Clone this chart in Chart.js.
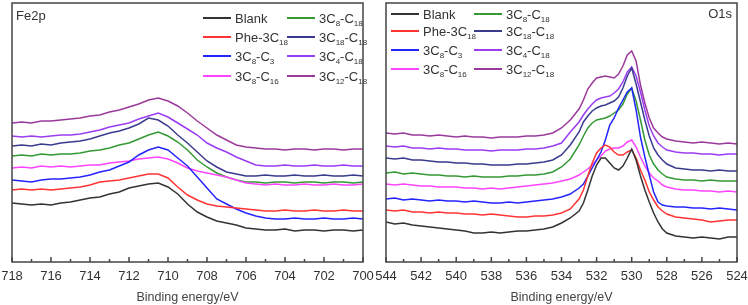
<!DOCTYPE html>
<html>
<head>
<meta charset="utf-8">
<script src="https://cdn.jsdelivr.net/npm/chart.js@4.4.1/dist/chart.umd.min.js"></script>
<style>
  body { margin: 0; background: #fff; font-family: "Liberation Sans", Arial, sans-serif; }
  #wrap { position: relative; width: 748px; height: 305px; overflow: hidden; }
  .panel { position: absolute; top: 0; width: 374px; height: 305px; }
  .panel canvas { position: absolute; left: 0; top: 0; }
  .tag { position: absolute; font-size: 13px; color: #333; line-height: 16px; }
  .item { position: absolute; height: 16px; display: flex; align-items: center; font-size: 13px; color: #333; white-space: nowrap; }
  .item .ln { display: inline-block; width: 28px; height: 1.6px; margin-right: 4px; }
  .item sub { font-size: 8px; vertical-align: -3px; line-height: 0; }
</style>
</head>
<body>
<div id="wrap">
  <div class="panel" style="left:0">
    <canvas id="fe" width="374" height="305"></canvas>
    <div class="tag" style="left:16px;top:8px">Fe2p</div>
    <div id="legFe"></div>
  </div>
  <div class="panel" style="left:374px">
    <canvas id="o1s" width="374" height="305"></canvas>
    <div class="tag" style="right:16px;top:6px">O1s</div>
    <div id="legO"></div>
  </div>
</div>
<script>
// series order: Blank, Phe-3C18, 3C8-C3, 3C8-C16, 3C8-C18, 3C18-C18, 3C4-C18, 3C12-C18
const SERIES_NAMES = ['Blank', 'Phe-3C<sub>18</sub>', '3C<sub>8</sub>-C<sub>3</sub>', '3C<sub>8</sub>-C<sub>16</sub>',
  '3C<sub>8</sub>-C<sub>18</sub>', '3C<sub>18</sub>-C<sub>18</sub>', '3C<sub>4</sub>-C<sub>18</sub>', '3C<sub>12</sub>-C<sub>18</sub>'];
const SERIES_COLORS = ['#333333', '#ff3333', '#2424ff', '#ff44ff', '#339933', '#3a3a8f', '#9a3cf2', '#9b399b'];

// Fe2p, binding energy (eV) and offset intensity (a.u.)
const FE_ENERGY = [718, 717.5, 717, 716.5, 716, 715.5, 715, 714.5, 714, 713.5, 713, 712.5, 712, 711.5, 711, 710.5,
  710, 709.5, 709, 708.5, 708, 707.5, 707, 706.5, 706, 705.5, 705, 704.5, 704, 703.5, 703, 702.5, 702, 701.5, 701, 700.5, 700];
const FE_BLANK = [59, 58, 57, 58, 57, 59, 60, 62, 64, 65, 68, 70, 74, 76, 78, 79, 75, 68, 58, 50, 45, 41, 39, 37, 34, 33, 32, 32, 33, 31, 32, 32, 31, 32, 32, 31, 32];
const FE_PHE = [72, 73, 72, 73, 72, 73, 74, 75, 77, 80, 81, 82, 84, 86, 88, 88, 84, 75, 67, 62, 58, 56, 55, 54, 53, 52, 51, 51, 52, 51, 51, 52, 51, 51, 52, 51, 51];
const FE_C8C3 = [82, 81, 80, 82, 83, 83, 84, 85, 87, 90, 92, 96, 100, 107, 112, 115, 112, 104, 96, 85, 74, 63, 58, 53, 49, 46, 44, 43, 43, 44, 43, 43, 44, 43, 43, 44, 43];
const FE_C8C16 = [94, 95, 94, 96, 95, 96, 95, 96, 97, 97, 99, 100, 101, 103, 104, 105, 103, 99, 94, 91, 89, 87, 85, 82, 79, 78, 77, 78, 77, 77, 78, 77, 77, 78, 77, 77, 78];
const FE_C8C18 = [106, 107, 106, 108, 107, 108, 108, 109, 111, 112, 114, 117, 119, 123, 127, 130, 126, 120, 112, 102, 95, 89, 85, 82, 80, 80, 79, 80, 80, 79, 80, 80, 79, 80, 80, 79, 80];
const FE_C18C18 = [116, 117, 116, 118, 117, 119, 120, 121, 123, 126, 129, 131, 134, 138, 144, 142, 136, 127, 119, 110, 101, 95, 90, 88, 86, 86, 87, 86, 86, 87, 86, 86, 87, 86, 86, 87, 86];
const FE_C4C18 = [126, 125, 126, 125, 126, 127, 127, 128, 130, 132, 135, 137, 139, 143, 146, 149, 145, 139, 133, 127, 119, 114, 110, 105, 101, 97, 96, 96, 97, 96, 96, 97, 96, 96, 97, 96, 96];
const FE_C12C18 = [139, 140, 139, 141, 141, 142, 143, 144, 146, 147, 150, 152, 155, 158, 162, 164, 161, 156, 149, 141, 134, 127, 122, 117, 115, 114, 113, 113, 112, 113, 113, 112, 113, 113, 112, 113, 113];

// O1s
const O_ENERGY = [544, 543.5, 543, 542.5, 542, 541.5, 541, 540.5, 540, 539.5, 539, 538.5, 538, 537.5, 537, 536.5, 536, 535.5, 535, 534.5, 534, 533.5,
  533, 532.75, 532.5, 532.25, 532, 531.75, 531.5, 531.25, 531, 530.75, 530.5, 530.25, 530, 529.75, 529.5, 529.25, 529, 528.75, 528.5, 528.25, 528,
  527.5, 527, 526.5, 526, 525.5, 525, 524.5, 524];
const O_BLANK = [40, 38, 39, 37, 36, 35, 34, 33, 32, 31, 29, 29, 30, 29, 30, 31, 31, 32, 33, 35, 39, 44,
  51, 59, 72, 86, 97, 104, 104, 99, 94, 92, 96, 104, 113, 102, 86, 72, 60, 49, 40, 33, 29, 26, 25, 24, 25, 24, 23, 25, 25];
const O_PHE = [52, 51, 52, 50, 50, 49, 50, 49, 49, 48, 48, 47, 48, 47, 46, 45, 45, 46, 46, 47, 49, 53,
  63, 72, 86, 99, 109, 114, 117, 115, 110, 107, 107, 110, 112, 104, 92, 82, 70, 62, 55, 51, 48, 45, 44, 43, 42, 40, 41, 42, 42];
const O_C8C3 = [63, 64, 62, 63, 62, 61, 62, 61, 61, 60, 61, 60, 59, 59, 60, 59, 60, 61, 62, 63, 65, 68,
  74, 78, 86, 94, 102, 110, 122, 137, 144, 154, 162, 170, 174, 152, 125, 105, 87, 70, 60, 57, 56, 55, 55, 54, 54, 53, 54, 53, 52];
const O_C8C16 = [78, 77, 78, 77, 76, 76, 75, 75, 75, 74, 74, 73, 74, 73, 74, 75, 76, 77, 78, 79, 81, 83,
  87, 90, 93, 97, 102, 106, 111, 113, 114, 114, 116, 120, 122, 115, 105, 96, 89, 84, 81, 77, 75, 73, 72, 72, 71, 71, 70, 71, 70];
const O_C8C18 = [89, 90, 88, 89, 88, 87, 87, 86, 86, 85, 86, 85, 85, 85, 86, 86, 87, 87, 88, 90, 95, 103,
  117, 126, 134, 139, 142, 143, 144, 146, 149, 152, 158, 168, 174, 161, 142, 122, 107, 98, 92, 88, 85, 83, 82, 82, 81, 82, 81, 81, 81];
const O_C18C18 = [104, 103, 104, 102, 102, 101, 100, 100, 99, 99, 98, 98, 97, 97, 97, 98, 98, 99, 100, 102, 107, 117,
  130, 140, 146, 151, 154, 156, 157, 159, 161, 165, 174, 186, 194, 178, 160, 142, 126, 114, 107, 102, 98, 94, 93, 92, 92, 91, 92, 91, 91];
const O_C4C18 = [116, 115, 116, 114, 114, 113, 114, 113, 113, 112, 112, 112, 111, 112, 112, 112, 113, 113, 114, 116, 119, 130,
  140, 147, 153, 158, 162, 164, 165, 166, 169, 173, 180, 190, 195, 186, 170, 152, 136, 126, 119, 115, 112, 110, 109, 109, 108, 108, 107, 108, 108];
const O_C12C18 = [129, 128, 129, 127, 127, 126, 127, 126, 125, 126, 125, 125, 124, 125, 125, 125, 126, 126, 127, 129, 134, 142,
  153, 162, 173, 179, 184, 185, 186, 185, 184, 188, 196, 207, 211, 201, 177, 159, 144, 134, 129, 125, 123, 121, 120, 119, 120, 119, 118, 119, 118];

const FE_SERIES = [FE_BLANK, FE_PHE, FE_C8C3, FE_C8C16, FE_C8C18, FE_C18C18, FE_C4C18, FE_C12C18];
const O_SERIES = [O_BLANK, O_PHE, O_C8C3, O_C8C16, O_C8C18, O_C18C18, O_C4C18, O_C12C18];

// box round the plot + inward tick marks on the energy axis
const framePlugin = {
  id: 'frame',
  afterDraw(chart) {
    const { ctx, chartArea: a } = chart;
    const x = chart.scales.x;
    ctx.save();
    ctx.strokeStyle = '#444';
    ctx.lineWidth = 1.5;
    ctx.strokeRect(a.left, a.top, a.right - a.left, a.bottom - a.top);
    x.ticks.forEach(t => {
      const px = x.getPixelForValue(t.value);
      const len = t.value % 2 === 0 ? 5 : 3;
      ctx.beginPath();
      ctx.moveTo(px, a.bottom);
      ctx.lineTo(px, a.bottom - len);
      ctx.stroke();
    });
    ctx.restore();
  }
};

function makeChart(id, energies, series, xMin, xMax) {
  const datasets = series.map((vals, i) => ({
    label: SERIES_NAMES[i],
    data: energies.map((e, j) => ({ x: e, y: vals[j] })),
    borderColor: SERIES_COLORS[i],
    borderWidth: 1.5,
    pointRadius: 0,
    fill: false,
    tension: 0
  }));
  return new Chart(document.getElementById(id), {
    type: 'line',
    data: { datasets },
    options: {
      responsive: false,
      animation: false,
      layout: { padding: { left: 12, right: 11, top: 3, bottom: 0 } },
      plugins: { legend: { display: false }, tooltip: { enabled: false } },
      scales: {
        x: {
          type: 'linear', reverse: true, min: xMin, max: xMax,
          grid: { display: false, drawTicks: false },
          border: { display: false },
          // fixed axis band so the plot box sits where the original one does
          afterFit: s => { s.height = 43; s.paddingLeft = 0; s.paddingRight = 0; },
          ticks: {
            stepSize: 1, autoSkip: false, maxRotation: 0, padding: 7, color: '#333',
            font: { family: "'Liberation Sans', Arial", size: 13 },
            callback: v => (v % 2 === 0 ? v : '')
          },
          title: {
            display: true, text: 'Binding energy/eV', color: '#444',
            font: { family: "'Liberation Sans', Arial", size: 12.5 },
            padding: { top: 0, bottom: 0 }
          }
        },
        y: { display: false, min: 0, max: 259 }
      }
    },
    plugins: [framePlugin]
  });
}

function buildLegend(id, colX, rowY) {
  const box = document.getElementById(id);
  SERIES_NAMES.forEach((name, i) => {
    const col = Math.floor(i / 4), row = i % 4;
    const d = document.createElement('div');
    d.className = 'item';
    d.style.left = colX[col] + 'px';
    d.style.top = (rowY[row] - 8) + 'px';
    d.innerHTML = `<span class="ln" style="background:${SERIES_COLORS[i]}"></span><span>${name}</span>`;
    box.appendChild(d);
  });
}

makeChart('fe', FE_ENERGY, FE_SERIES, 700, 718);
makeChart('o1s', O_ENERGY, O_SERIES, 524, 544);
buildLegend('legFe', [203, 287], [18, 37, 56, 76]);
buildLegend('legO', [17, 100], [14, 31, 50, 69]);
</script>
</body>
</html>
